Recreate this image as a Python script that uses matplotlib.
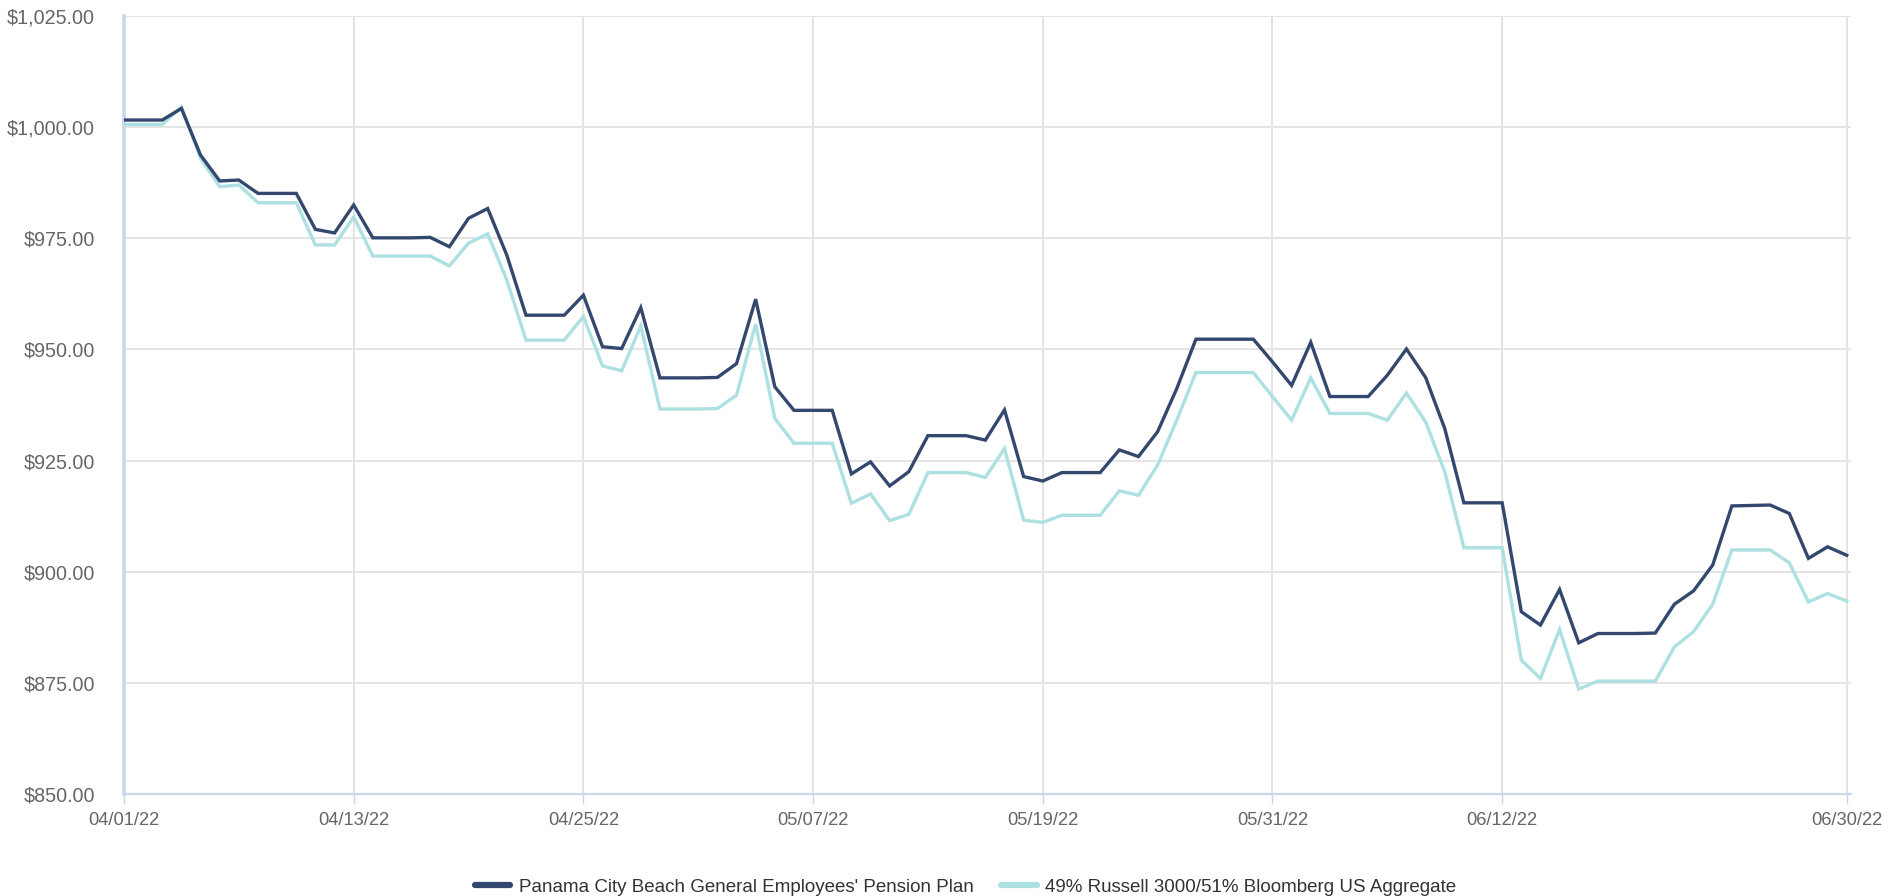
import matplotlib
matplotlib.use("Agg")
import matplotlib.pyplot as plt
import matplotlib.dates as mdates
import pandas as pd
from matplotlib.ticker import FuncFormatter

plt.rcParams['font.family'] = ['Liberation Sans', 'DejaVu Sans']

dates = pd.date_range("2022-04-01", "2022-06-30", freq="D")

plan_values = [
    1001.6, 1001.6, 1001.6, 1004.2, 993.7, 987.9, 988.1, 985.1, 985.1, 985.1,
    977.0, 976.2, 982.5, 975.1, 975.1, 975.1, 975.2, 973.1, 979.5, 981.7,
    971.2, 957.7, 957.7, 957.7, 962.2, 950.6, 950.2, 959.4, 943.6, 943.6,
    943.6, 943.7, 946.8, 961.3, 941.6, 936.3, 936.3, 936.3, 922.0, 924.7,
    919.3, 922.5, 930.6, 930.6, 930.6, 929.6, 936.4, 921.4, 920.4, 922.3,
    922.3, 922.3, 927.4, 925.9, 931.5, 941.2, 952.3, 952.3, 952.3, 952.3,
    947.2, 941.9, 951.6, 939.4, 939.4, 939.4, 944.2, 950.1, 943.7, 932.2,
    915.5, 915.5, 915.5, 891.0, 888.0, 896.0, 884.0, 886.1, 886.1, 886.1,
    886.2, 892.7, 895.7, 901.5, 914.8, 914.9, 915.0, 913.1, 903.0, 905.6,
    903.7,
]

benchmark_values = [
    1000.6, 1000.6, 1000.6, 1004.6, 993.0, 986.6, 987.0, 983.0, 983.0, 983.0,
    973.5, 973.5, 979.8, 971.0, 971.0, 971.0, 971.0, 968.8, 973.9, 976.0,
    965.6, 952.1, 952.1, 952.1, 957.4, 946.3, 945.2, 955.3, 936.6, 936.6,
    936.6, 936.7, 939.7, 955.7, 934.5, 928.9, 928.9, 928.9, 915.4, 917.5,
    911.5, 912.9, 922.3, 922.3, 922.3, 921.2, 927.7, 911.6, 911.1, 912.7,
    912.7, 912.7, 918.2, 917.2, 924.0, 934.1, 944.8, 944.8, 944.8, 944.8,
    939.4, 934.1, 943.6, 935.6, 935.6, 935.6, 934.1, 940.2, 933.7, 922.5,
    905.4, 905.4, 905.4, 880.1, 876.0, 887.0, 873.6, 875.4, 875.4, 875.4,
    875.4, 883.1, 886.5, 892.7, 904.9, 904.9, 904.9, 902.0, 893.2, 895.1,
    893.4,
]

series_names = [
    "Panama City Beach General Employees' Pension Plan",
    "49% Russell 3000/51% Bloomberg US Aggregate",
]
tick_dates = ["2022-04-01", "2022-04-13", "2022-04-25", "2022-05-07",
              "2022-05-19", "2022-05-31", "2022-06-12", "2022-06-30"]
y_ticks = [850, 875, 900, 925, 950, 975, 1000, 1025]

dark = "#34486f"
light = "#ade0e1"
grid_c = "#e4e4e4"
axis_c = "#ccd6eb"
label_c = "#666666"

fig = plt.figure(figsize=(18.88, 8.96), dpi=100)
ax = fig.add_axes([124 / 1888, 1 - 794 / 896, (1850.7 - 124) / 1888, (794 - 16) / 896])

ax.plot(dates, plan_values, color=dark, lw=2.4, label=series_names[0], zorder=4,
        solid_joinstyle="miter")
ax.plot(dates, benchmark_values, color=light, lw=2.4, label=series_names[1], zorder=3,
        solid_joinstyle="miter")

ax.set_ylim(850, 1025)
ax.set_xlim(dates[0], dates[-1] + pd.Timedelta(hours=5))
ax.set_yticks(y_ticks)
ax.yaxis.set_major_formatter(FuncFormatter(lambda v, p: f"${v:,.2f}"))
ax.set_xticks(pd.to_datetime(tick_dates))
ax.xaxis.set_major_formatter(mdates.DateFormatter("%m/%d/%y"))

ax.grid(True, color=grid_c, lw=1.4, zorder=0)
ax.set_axisbelow(True)

for side in ("top", "right"):
    ax.spines[side].set_visible(False)
ax.spines["left"].set_color(axis_c)
ax.spines["left"].set_linewidth(2.6)
ax.spines["bottom"].set_color(axis_c)
ax.spines["bottom"].set_linewidth(1.6)

ax.tick_params(axis="y", length=0, pad=21, labelsize=14.2, labelcolor=label_c)
ax.tick_params(axis="x", length=7, width=1, color=axis_c, pad=6,
               labelsize=13.2, labelcolor=label_c)

leg = fig.legend(loc="lower center", bbox_to_anchor=(965.5 / 1888, 0.0), ncol=2,
                 frameon=False, fontsize=13.5, handlelength=1.9, handletextpad=0.45,
                 columnspacing=1.45, borderaxespad=0.0, borderpad=0.0)
for h in leg.get_lines():
    h.set_linewidth(4.5)
    h.set_solid_capstyle("round")
for t in leg.get_texts():
    t.set_color("#333333")

fig.savefig("out.png", dpi=100)
